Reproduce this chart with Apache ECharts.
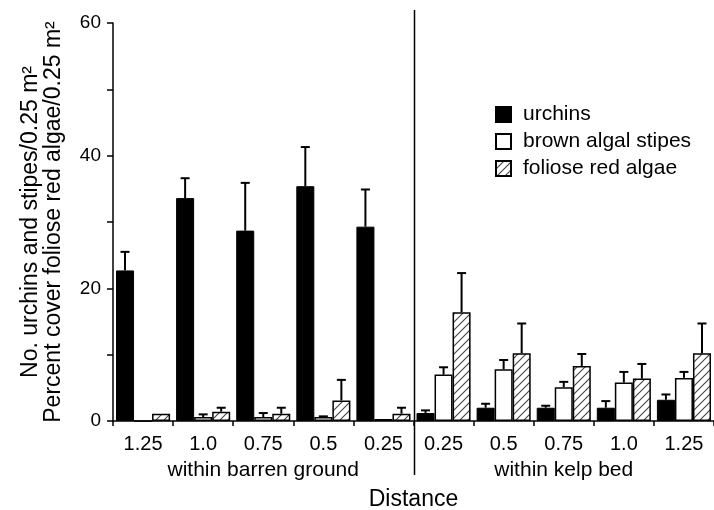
<!DOCTYPE html>
<html>
<head>
<meta charset="utf-8">
<script src="https://cdn.jsdelivr.net/npm/echarts@6/dist/echarts.min.js"></script>
<style>
  html, body { margin: 0; background: #fff; }
  #chart { width: 714px; height: 510px; }
</style>
</head>
<body>
<div id="chart"></div>
<script>
// distance groups (barren ground first, then kelp bed)
const distances = ['1.25', '1.0', '0.75', '0.5', '0.25', '0.25', '0.5', '0.75', '1.0', '1.25'];
const zones = ['within barren ground', 'within kelp bed'];

// means
const urchins = [22.7, 33.6, 28.7, 35.4, 29.3, 1.2, 2.0, 2.0, 2.0, 3.2];
const stipes = [0, 0.6, 0.6, 0.6, 0.3, 7.0, 7.8, 5.1, 5.8, 6.5];
const redAlgae = [1.1, 1.4, 1.1, 3.1, 1.1, 16.4, 10.2, 8.3, 6.4, 10.2];

// upper end of the error bars (null = none drawn)
const urchinsUpper = [25.5, 36.6, 35.9, 41.3, 34.9, 1.6, 2.6, 2.3, 3.0, 4.0];
const stipesUpper = [null, 1.0, 1.2, 0.7, null, 8.1, 9.2, 5.9, 7.4, 7.4];
const redAlgaeUpper = [null, 2.0, 2.0, 6.2, 2.0, 22.3, 14.7, 10.1, 8.6, 14.7];

const FONT = '"Liberation Sans", Arial, sans-serif';

// diagonal hatch for the red algae bars
const hatch = document.createElement('canvas');
hatch.width = hatch.height = 8;
const g = hatch.getContext('2d');
g.fillStyle = '#fff';
g.fillRect(0, 0, 8, 8);
g.strokeStyle = '#444';
g.lineWidth = 1.1;
g.beginPath();
g.moveTo(0, 8); g.lineTo(8, 0);
g.moveTo(-2, 2); g.lineTo(2, -2);
g.moveTo(6, 10); g.lineTo(10, 6);
g.stroke();

const CAT_GAP = 0.1;

function errData(means, uppers, slot) {
  const out = [];
  means.forEach((m, i) => {
    if (uppers[i] != null) out.push([i, m, uppers[i], slot]);
  });
  return out;
}

function renderErr(params, api) {
  const i = api.value(0), lo = api.value(1), hi = api.value(2), slot = api.value(3);
  const band = api.size([1, 0])[0];
  const bw = band * (1 - CAT_GAP) / 3;
  const x = api.coord([i, 0])[0] - band * (1 - CAT_GAP) / 2 + bw * (slot + 0.5);
  const y0 = api.coord([i, lo])[1];
  const y1 = api.coord([i, hi])[1];
  return {
    type: 'group',
    children: [
      { type: 'line', shape: { x1: x, y1: y0, x2: x, y2: y1 }, style: { stroke: '#000', lineWidth: 2 } },
      { type: 'line', shape: { x1: x - 4.5, y1: y1, x2: x + 4.5, y2: y1 }, style: { stroke: '#000', lineWidth: 2 } },
    ],
  };
}

const chart = echarts.init(document.getElementById('chart'), null, { renderer: 'canvas' });

const barBase = { type: 'bar', barGap: '0%', barCategoryGap: (CAT_GAP * 100) + '%', animation: false };
const errBase = { type: 'custom', renderItem: renderErr, z: 3, animation: false, encode: { x: 0, y: 2 } };

chart.setOption({
  backgroundColor: '#fff',
  textStyle: { fontFamily: FONT, color: '#000' },
  grid: { left: 113, right: 0, top: 23, bottom: 89, containLabel: false, outerBoundsMode: 'none' },
  legend: {
    orient: 'vertical',
    left: 490,
    top: 99,
    itemWidth: 15,
    itemHeight: 15,
    itemGap: 6,
    icon: 'rect',
    textStyle: { fontFamily: FONT, fontSize: 21, lineHeight: 21, color: '#000', padding: [0, 0, 0, 7] },
    data: ['urchins', 'brown algal stipes', 'foliose red algae'],
  },
  xAxis: [{
    type: 'category',
    data: distances,
    axisLine: { lineStyle: { color: '#000', width: 1.5 } },
    axisTick: { show: true, length: 5, lineStyle: { color: '#000', width: 1.5 } },
    axisLabel: { fontFamily: FONT, fontSize: 20, color: '#000', margin: 13 },
    name: 'Distance',
    nameLocation: 'middle',
    nameGap: 67,
    nameTextStyle: { fontFamily: FONT, fontSize: 23, color: '#000' },
  }, {
    type: 'category',
    data: zones,
    position: 'bottom',
    offset: 29,
    axisLine: { show: false },
    axisTick: { show: false },
    axisLabel: { fontFamily: FONT, fontSize: 21, color: '#000', margin: 10 },
  }],
  yAxis: {
    type: 'value',
    min: 0,
    max: 60,
    interval: 20,
    splitLine: { show: false },
    axisLine: { show: true, lineStyle: { color: '#000', width: 1.5 } },
    axisTick: { show: true, length: 6, lineStyle: { color: '#000', width: 1.5 } },
    minorTick: { show: true, splitNumber: 2, length: 6, lineStyle: { color: '#000', width: 1.5 } },
    axisLabel: { fontFamily: FONT, fontSize: 19, color: '#000', margin: 12 },
    name: 'No. urchins and stipes/0.25 m\u00b2\nPercent cover foliose red algae/0.25 m\u00b2',
    nameLocation: 'middle',
    nameGap: 48,
    nameTextStyle: { fontFamily: FONT, fontSize: 23, color: '#000', lineHeight: 23 },
  },
  series: [
    Object.assign({}, barBase, {
      name: 'urchins',
      data: urchins,
      itemStyle: { color: '#000', borderColor: '#000', borderWidth: 1 },
    }),
    Object.assign({}, barBase, {
      name: 'brown algal stipes',
      data: stipes,
      itemStyle: { color: '#fff', borderColor: '#000', borderWidth: 1.5 },
    }),
    Object.assign({}, barBase, {
      name: 'foliose red algae',
      data: redAlgae,
      itemStyle: { color: { image: hatch, repeat: 'repeat' }, borderColor: '#000', borderWidth: 1.5 },
    }),
    Object.assign({}, errBase, { data: errData(urchins, urchinsUpper, 0) }),
    Object.assign({}, errBase, { data: errData(stipes, stipesUpper, 1) }),
    Object.assign({}, errBase, { data: errData(redAlgae, redAlgaeUpper, 2) }),
  ],
});

// vertical divider between the barren ground and kelp bed groups
const xa = chart.convertToPixel({ xAxisIndex: 0 }, 4);
const xb = chart.convertToPixel({ xAxisIndex: 0 }, 5);
const xDiv = Math.round((xa + xb) / 2) + 0.5;
chart.setOption({
  graphic: [{
    type: 'line',
    shape: { x1: xDiv, y1: 10, x2: xDiv, y2: 475 },
    style: { stroke: '#000', lineWidth: 1.5 },
    z: 10,
  }],
});
</script>
</body>
</html>
